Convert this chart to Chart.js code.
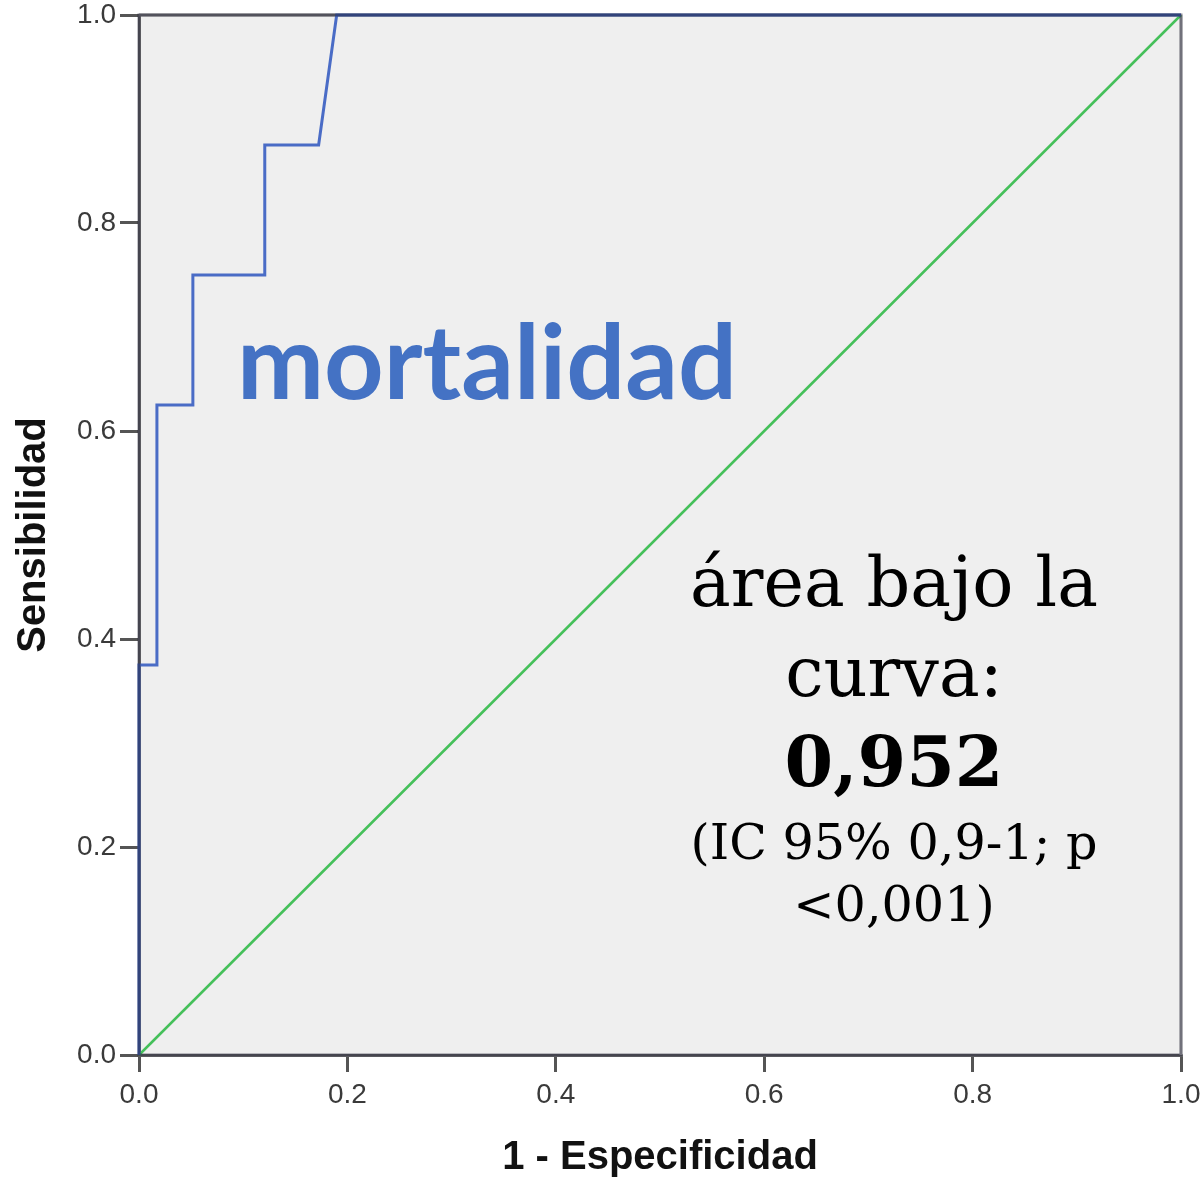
<!DOCTYPE html>
<html>
<head>
<meta charset="utf-8">
<script src="https://cdn.jsdelivr.net/npm/chart.js@4/dist/chart.umd.min.js"></script>
<style>
  html, body { margin: 0; padding: 0; background: #ffffff; }
  #wrap { width: 1202px; height: 1178px; position: relative; }
</style>
</head>
<body>
<div id="wrap"><canvas id="c" width="1202" height="1178"></canvas></div>
<script>
// ---- data ----
const fpr = [0, 0, 0.0172, 0.0172, 0.0517, 0.0517, 0.1207, 0.1207, 0.1724, 0.1897, 1];
const tpr = [0, 0.375, 0.375, 0.625, 0.625, 0.75, 0.75, 0.875, 0.875, 1, 1];
const refX = [0, 1];
const refY = [0, 1];
const axisTicks = [0, 0.2, 0.4, 0.6, 0.8, 1.0];
const xTitle = '1 - Especificidad';
const yTitle = 'Sensibilidad';
const curveLabel = 'mortalidad';
const aucLines = ['área bajo la', 'curva:', '0,952', '(IC 95% 0,9-1; p', '<0,001)'];

const rocData = fpr.map((x, i) => ({ x: x, y: tpr[i] }));
const refData = refX.map((x, i) => ({ x: x, y: refY[i] }));

const bgPlugin = {
  id: 'bg',
  beforeDraw(chart) {
    const { ctx, chartArea: a } = chart;
    ctx.save();
    ctx.fillStyle = '#efefef';
    ctx.fillRect(a.left, a.top, a.right - a.left, a.bottom - a.top);
    ctx.restore();
  },
  beforeDatasetsDraw(chart) {
    const { ctx, chartArea: a } = chart;
    ctx.save();
    ctx.lineWidth = 3;
    ctx.strokeStyle = '#8a8a8a';
    ctx.beginPath();
    ctx.moveTo(a.left, a.top); ctx.lineTo(a.right, a.top);
    ctx.stroke();
    ctx.strokeStyle = '#c8c8c8';
    ctx.beginPath();
    ctx.moveTo(a.right, a.top); ctx.lineTo(a.right, a.bottom);
    ctx.stroke();
    ctx.restore();
  },
  afterDatasetsDraw(chart) {
    const { ctx, chartArea: a } = chart;
    ctx.save();
    ctx.lineWidth = 3;
    ctx.strokeStyle = 'rgba(25,25,45,0.5)';
    ctx.strokeRect(a.left, a.top, a.right - a.left, a.bottom - a.top);
    ctx.restore();
  }
};

function fitFont(ctx, text, weight, family, targetW) {
  ctx.font = weight + ' 100px ' + family;
  const w = ctx.measureText(text).width;
  return 100 * targetW / w;
}

const textPlugin = {
  id: 'texts',
  afterDraw(chart) {
    const ctx = chart.ctx;
    ctx.save();
    // curve label
    const fam1 = 'Lato, "DejaVu Sans", sans-serif';
    let s = fitFont(ctx, curveLabel, 'bold', fam1, 500);
    ctx.font = 'bold ' + s + 'px ' + fam1;
    ctx.fillStyle = '#4472c4';
    ctx.textAlign = 'left';
    ctx.textBaseline = 'alphabetic';
    ctx.fillText(curveLabel, 237, 399);

    // AUC annotation
    const fam2 = '"DejaVu Serif", serif';
    const cx = 894;
    ctx.fillStyle = '#000000';
    ctx.textAlign = 'center';
    const s1 = fitFont(ctx, aucLines[0], 'normal', fam2, 408);
    ctx.font = 'normal ' + s1 + 'px ' + fam2;
    ctx.fillText(aucLines[0], cx, 606);
    ctx.fillText(aucLines[1], cx, 696);
    const s3 = fitFont(ctx, aucLines[2], 'bold', fam2, 219);
    ctx.font = 'bold ' + s3 + 'px ' + fam2;
    ctx.fillText(aucLines[2], cx, 786);
    const s4 = fitFont(ctx, aucLines[3], 'normal', fam2, 407);
    ctx.font = 'normal ' + s4 + 'px ' + fam2;
    ctx.fillText(aucLines[3], cx, 859);
    ctx.fillText(aucLines[4], cx, 921);
    ctx.restore();
  }
};

const tickFont = { family: '"Liberation Sans", Arial, sans-serif', size: 28, lineHeight: 1.0 };
const titleFont = { family: '"Liberation Sans", Arial, sans-serif', size: 40, weight: 'bold', lineHeight: 1.0 };

new Chart(document.getElementById('c'), {
  type: 'line',
  data: {
    datasets: [
      {
        label: curveLabel,
        data: rocData,
        borderColor: '#4a6cc6',
        borderWidth: 3,
        pointRadius: 0,
        tension: 0,
        fill: false,
        clip: false
      },
      {
        label: 'Referencia',
        data: refData,
        borderColor: '#45c05a',
        borderWidth: 2.5,
        pointRadius: 0,
        tension: 0,
        fill: false,
        clip: false
      }
    ]
  },
  options: {
    responsive: false,
    animation: false,
    devicePixelRatio: 1,
    layout: { padding: { left: 0, top: 15, right: 21, bottom: 0 } },
    plugins: { legend: { display: false }, tooltip: { enabled: false } },
    scales: {
      x: {
        type: 'linear',
        min: 0, max: 1,
        afterBuildTicks(scale) { scale.ticks = axisTicks.map(v => ({ value: v })); },
        afterFit(scale) { scale.height = 123; scale.paddingLeft = 0; scale.paddingRight = 0; },
        ticks: {
          callback: v => Number(v).toFixed(1),
          font: tickFont,
          color: '#3a3a3a',
          padding: 9,
          maxRotation: 0
        },
        grid: { drawOnChartArea: false, drawTicks: true, tickLength: 17, color: '#555555', lineWidth: 3 },
        border: { display: true, color: '#707070', width: 3 },
        title: { display: true, text: xTitle, font: titleFont, color: '#111111', padding: { top: 0, bottom: 0 } }
      },
      y: {
        type: 'linear',
        min: 0, max: 1,
        afterBuildTicks(scale) { scale.ticks = axisTicks.map(v => ({ value: v })); },
        afterFit(scale) { scale.width = 139; scale.paddingTop = 0; scale.paddingBottom = 0; },
        ticks: {
          callback: v => Number(v).toFixed(1),
          font: tickFont,
          color: '#3a3a3a',
          padding: 4
        },
        grid: { drawOnChartArea: false, drawTicks: true, tickLength: 19, color: '#555555', lineWidth: 3 },
        border: { display: true, color: '#707070', width: 3 },
        title: { display: true, text: yTitle, font: titleFont, color: '#111111', padding: { top: 14, bottom: 0 } }
      }
    }
  },
  plugins: [bgPlugin, textPlugin]
});
</script>
</body>
</html>
